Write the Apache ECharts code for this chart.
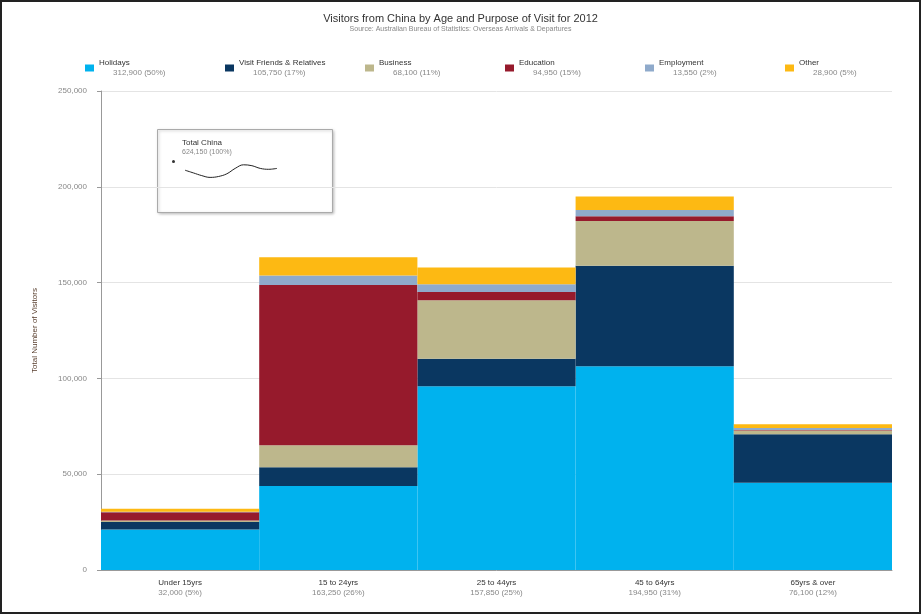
<!DOCTYPE html>
<html><head><meta charset="utf-8">
<script src="https://cdn.jsdelivr.net/npm/echarts@6/dist/echarts.min.js"></script>
<style>html,body{margin:0;padding:0;background:#fff}#c{position:absolute;left:0;top:0;width:917px;height:610px;border:2px solid #222;}</style>
</head><body><div id="c"></div>
<script>
const categories = ['Under 15yrs', '15 to 24yrs', '25 to 44yrs', '45 to 64yrs', '65yrs & over'];
const seriesNames = ['Holidays', 'Visit Friends & Relatives', 'Business', 'Education', 'Employment', 'Other'];
const holidays   = [21100, 43900, 95900, 106400, 45600];
const vfr        = [4000, 9750, 14300, 52400, 25300];
const business   = [800, 11400, 30600, 23400, 1900];
const education  = [4200, 83700, 4350, 2400, 300];
const employment = [300, 4900, 4000, 3350, 1000];
const other      = [1600, 9600, 8700, 7000, 2000];
const sparkMonths = ['Jan','Feb','Mar','Apr','May','Jun','Jul','Aug','Sep','Oct','Nov','Dec'];
const sparkValues = [52000, 49000, 46000, 44000, 45000, 48000, 54000, 58000, 57000, 54000, 53000, 54000];
const yTicks = [0, 50000, 100000, 150000, 200000, 250000];
const colors = ['#00B2EE', '#0A3761', '#BDB78C', '#961A2C', '#8FAACB', '#FDB913'];

const allSeries = [holidays, vfr, business, education, employment, other];
const fmt = v => Math.round(v).toLocaleString('en-US');
const grand = allSeries.reduce((s, a) => s + a.reduce((x, y) => x + y, 0), 0);
const legendVals = {};
seriesNames.forEach((n, i) => {
  const t = allSeries[i].reduce((x, y) => x + y, 0);
  legendVals[n] = fmt(t) + ' (' + Math.round(t / grand * 100) + '%)';
});
const catTotals = categories.map((c, j) => allSeries.reduce((s, a) => s + a[j], 0));
const catLabel = {};
categories.forEach((c, j) => { catLabel[c] = fmt(catTotals[j]) + ' (' + Math.round(catTotals[j] / grand * 100) + '%)'; });

const FONT = 'Liberation Sans';
const chart = echarts.init(document.getElementById('c'));
chart.setOption({
  animation: false,
  textStyle: { fontFamily: FONT },
  color: colors,
  title: {
    text: 'Visitors from China by Age and Purpose of Visit for 2012',
    subtext: 'Source: Australian Bureau of Statistics: Overseas Arrivals & Departures',
    left: 'center', top: 6, itemGap: 2,
    textStyle: { fontSize: 11, fontWeight: 'normal', color: '#333', fontFamily: FONT },
    subtextStyle: { fontSize: 7, color: '#888', fontFamily: FONT }
  },
  legend: {
    data: seriesNames,
    left: 78, top: 52, width: 900,
    itemWidth: 9, itemHeight: 7, itemGap: 8,
    icon: 'rect',
    formatter: n => '{n|' + n + '}\n{v|' + legendVals[n] + '}',
    textStyle: {
      rich: {
        n: { fontSize: 8, color: '#333', width: 118, lineHeight: 10, fontFamily: FONT },
        v: { fontSize: 8, color: '#888', width: 104, lineHeight: 10, fontFamily: FONT, padding: [0, 0, 0, 14] }
      }
    }
  },
  grid: [
    { left: 99, right: 27, top: 89, bottom: 42 },
    { left: 183, top: 161, width: 92, height: 18 }
  ],
  xAxis: [
    {
      type: 'category', data: categories, gridIndex: 0,
      axisLine: { lineStyle: { color: '#999' } },
      axisTick: { lineStyle: { color: '#999' }, length: 3 },
      axisLabel: {
        margin: 8,
        formatter: v => '{n|' + v + '}\n{v|' + catLabel[v] + '}',
        rich: {
          n: { fontSize: 8, color: '#333', lineHeight: 10, fontFamily: FONT },
          v: { fontSize: 8, color: '#888', lineHeight: 10, fontFamily: FONT }
        }
      }
    },
    { type: 'category', data: sparkMonths, gridIndex: 1, show: false, boundaryGap: false }
  ],
  yAxis: [
    {
      type: 'value', min: yTicks[0], max: yTicks[yTicks.length - 1], interval: 50000, gridIndex: 0,
      name: 'Total Number of Visitors', nameLocation: 'middle', nameGap: 62, nameRotate: 90,
      nameTextStyle: { fontSize: 8, color: '#5a4030', fontFamily: FONT },
      axisLine: { show: true, lineStyle: { color: '#999' } },
      axisTick: { show: true, length: 4, lineStyle: { color: '#999' } },
      axisLabel: { fontSize: 8, color: '#888', formatter: v => fmt(v), margin: 14 },
      splitLine: { lineStyle: { color: '#e4e4e4' } }
    },
    { type: 'value', gridIndex: 1, show: false, min: 40000, max: 60000 }
  ],
  graphic: [
    {
      type: 'rect', left: 155, top: 127, shape: { width: 175, height: 83 }, z: 0,
      style: { fill: '#fff', stroke: '#aaa', lineWidth: 1, shadowBlur: 3, shadowColor: 'rgba(0,0,0,0.25)', shadowOffsetX: 1, shadowOffsetY: 1 }
    },
    { type: 'text', left: 180, top: 137, z: 5, style: { text: 'Total China', fontSize: 8, fill: '#333', fontFamily: FONT } },
    { type: 'text', left: 180, top: 147, z: 5, style: { text: fmt(grand) + ' (100%)', fontSize: 7, fill: '#888', fontFamily: FONT } },
    { type: 'circle', left: 170, top: 158, z: 5, shape: { r: 1.5 }, style: { fill: '#333' } }
  ],
  series: seriesNames.map((n, i) => ({
    name: n, type: 'bar', stack: 'total', data: allSeries[i],
    xAxisIndex: 0, yAxisIndex: 0,
    barCategoryGap: 0, barWidth: '100%',
    itemStyle: { color: colors[i] }
  })).concat([{
    name: 'Total China', type: 'line', data: sparkValues, xAxisIndex: 1, yAxisIndex: 1,
    showSymbol: false, smooth: 0.4, lineStyle: { color: '#222', width: 1 }, z: 10
  }])
});
</script></body></html>
